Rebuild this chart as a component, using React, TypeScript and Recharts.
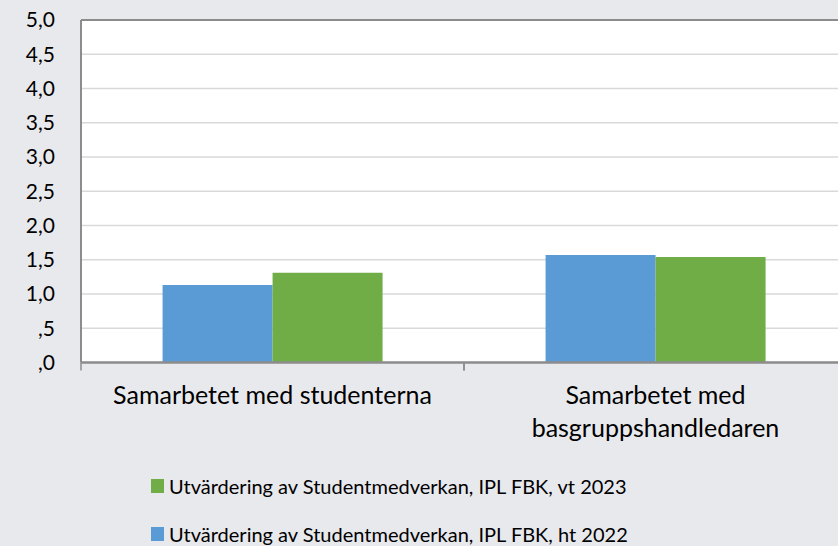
import { BarChart, Bar, XAxis, YAxis, CartesianGrid, ReferenceLine } from 'recharts'

const categories = ['Samarbetet med studenterna', 'Samarbetet med\nbasgruppshandledaren']
const ht2022 = [1.13, 1.57]
const vt2023 = [1.31, 1.54]
const yTicks = [0, 0.5, 1, 1.5, 2, 2.5, 3, 3.5, 4, 4.5, 5]

const seriesHt = 'Utvärdering av Studentmedverkan, IPL FBK, ht 2022'
const seriesVt = 'Utvärdering av Studentmedverkan, IPL FBK, vt 2023'

const BLUE = '#5b9bd5'
const GREEN = '#70ad47'
const AXIS = '#8c8c8c'
const FONT = 'Lato, "Open Sans", sans-serif'

const data = categories.map((name, i) => ({ name, ht: ht2022[i], vt: vt2023[i] }))

// legend order as in the original: vt 2023 first
const legendItems = [
  { label: seriesVt, color: GREEN },
  { label: seriesHt, color: BLUE },
]

const formatTick = (v: number) => {
  const s = v.toFixed(1).replace('.', ',')
  return s.startsWith('0') ? s.slice(1) : s
}

// category label + tick marks on the band edges (Excel puts ticks between categories)
const CategoryTick = ({ x, y, payload }: any) => {
  const lines = String(payload.value).split('\n')
  const half = payload.offset || 0
  return (
    <g>
      {half > 0 && (
        <>
          <line x1={x - half} x2={x - half} y1={y} y2={y + 8} stroke={AXIS} strokeWidth={1.5} />
          <line x1={x + half} x2={x + half} y1={y} y2={y + 8} stroke={AXIS} strokeWidth={1.5} />
        </>
      )}
      <text x={x} y={y} textAnchor="middle" fill="#000" fontSize={25} fontFamily={FONT}>
        {lines.map((line, i) => (
          <tspan key={i} x={x} dy={i === 0 ? 41 : 33}>
            {line}
          </tspan>
        ))}
      </text>
    </g>
  )
}

export default function App() {
  return (
    <div style={{ position: 'absolute', left: 0, top: 0, width: 838, height: 546, overflow: 'hidden', background: '#e8e9ed' }}>
      <BarChart
        width={847}
        height={546}
        data={data}
        margin={{ top: 20, right: 0, bottom: 83.5, left: 0 }}
        barCategoryGap="21.3%"
        barGap={0}
      >
        <CartesianGrid vertical={false} stroke="#d9d9d9" strokeWidth={1.5} fill="#ffffff" />
        <XAxis
          dataKey="name"
          axisLine={{ stroke: AXIS, strokeWidth: 2.5 }}
          tickLine={false}
          tickSize={0}
          tickMargin={0}
          tick={<CategoryTick />}
          interval={0}
          height={100}
        />
        <YAxis
          domain={[0, 5]}
          ticks={yTicks}
          interval={0}
          tickFormatter={formatTick}
          axisLine={{ stroke: AXIS, strokeWidth: 2 }}
          tickLine={false}
          tickSize={0}
          tickMargin={26}
          width={81}
          tick={{ fill: '#000', fontSize: 21, fontFamily: FONT }}
        />
        <ReferenceLine y={5} stroke={AXIS} strokeWidth={2} />
        <Bar dataKey="ht" name={seriesHt} fill={BLUE} isAnimationActive={false} />
        <Bar dataKey="vt" name={seriesVt} fill={GREEN} isAnimationActive={false} />
      </BarChart>
      <div style={{ position: 'absolute', left: 151, top: 473.5, fontFamily: FONT, fontSize: 20, color: '#000' }}>
        {legendItems.map((item) => (
          <div key={item.label} style={{ display: 'flex', alignItems: 'center', height: 24, marginBottom: 24, whiteSpace: 'nowrap' }}>
            <span style={{ width: 13, height: 14, background: item.color, marginRight: 5, display: 'inline-block' }} />
            <span>{item.label}</span>
          </div>
        ))}
      </div>
    </div>
  )
}
